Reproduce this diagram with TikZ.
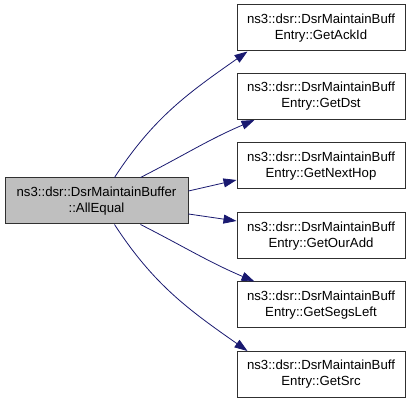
\documentclass[tikz,border=0pt]{standalone}
\usepackage{fontspec}
\setmainfont{Liberation Sans}
\usetikzlibrary{arrows.meta}
\definecolor{edgeblue}{HTML}{191970}
\definecolor{boxgray}{HTML}{BFBFBF}
\definecolor{boxline}{HTML}{303030}
\begin{document}
\begin{tikzpicture}[x=1pt,y=-1pt,
  box/.style={draw=boxline, line width=1pt, fill=white, minimum width=168pt, minimum height=46pt,
    inner sep=0pt, align=center, font=\fontsize{13.2pt}{16pt}\selectfont},
  mainbox/.style={box, fill=boxgray, minimum width=183pt},
  edge/.style={draw=edgeblue, line width=0.8pt, -{Triangle[length=13pt,width=9pt]}}]
\useasboundingbox (0,0) rectangle (413,403);
\node[mainbox] (L) at (96.5,201) {ns3::dsr::DsrMaintainBuffer\\::AllEqual};
\node[box] (R1) at (321,28) {ns3::dsr::DsrMaintainBuff\\Entry::GetAckId};
\node[box] (R2) at (321,96.5) {ns3::dsr::DsrMaintainBuff\\Entry::GetDst};
\node[box] (R3) at (321,166) {ns3::dsr::DsrMaintainBuff\\Entry::GetNextHop};
\node[box] (R4) at (321,236) {ns3::dsr::DsrMaintainBuff\\Entry::GetOurAdd};
\node[box] (R5) at (321,305) {ns3::dsr::DsrMaintainBuff\\Entry::GetSegsLeft};
\node[box] (R6) at (321,374.5) {ns3::dsr::DsrMaintainBuff\\Entry::GetSrc};
\draw[edge] ([xshift=110pt]L.north west) to[out=57,in=215] ([xshift=11pt]R1.south west);
\draw[edge] ([xshift=136pt]L.north west) to[out=27,in=203] ([xshift=18pt]R2.south west);
\draw[edge] ([yshift=10pt]L.east) -- ([yshift=-14pt]R3.west);
\draw[edge] ([yshift=-13pt]L.east) -- ([yshift=15pt]R4.west);
\draw[edge] ([xshift=136pt]L.south west) to[out=-27,in=157] ([xshift=18pt]R5.north west);
\draw[edge] ([xshift=110pt]L.south west) to[out=-57,in=145] ([xshift=11pt]R6.north west);
\end{tikzpicture}
\end{document}
